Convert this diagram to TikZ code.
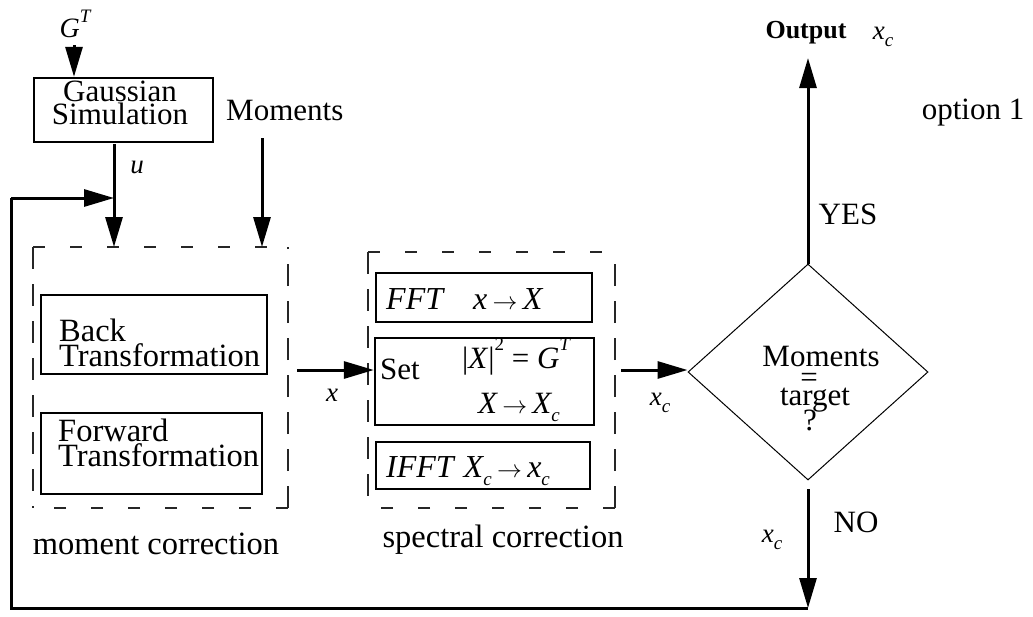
\documentclass[tikz,border=0pt]{standalone}
\usepackage{fontspec}
\setmainfont{Liberation Serif}
\usetikzlibrary{arrows.meta,shapes.geometric}
\newcommand\mysub[1]{\raisebox{-0.28em}{\fontsize{19}{19}\selectfont\itshape #1}}
\newcommand\mysup[1]{\raisebox{0.55em}{\fontsize{19}{19}\selectfont #1}}
\newcommand\myarr{\,$\rightarrow$\,}
\begin{document}
\begin{tikzpicture}[x=1pt,y=-1pt,
  conn/.style={line width=3pt,-{Triangle[length=30pt,width=17pt]}},
  plain/.style={line width=3pt},
  blk/.style={draw,line width=2.4pt,inner sep=0pt},
  lab/.style={inner sep=0pt,font=\fontsize{31}{22}\selectfont},
  big/.style={inner sep=0pt,font=\fontsize{32.5}{25}\selectfont},
  small/.style={inner sep=0pt,font=\fontsize{27}{27}\selectfont},
  dh/.style={line width=1.8pt,black!85,dash pattern=on 12pt off 25pt},
  dv/.style={line width=1.8pt,black!85,dash pattern=on 22pt off 15pt},
  dia/.style={draw,diamond,line width=1pt,inner sep=0pt,minimum width=240pt,minimum height=216pt}]
\useasboundingbox (0,0) rectangle (1033,616);

% Gaussian
\node[small,font=\fontsize{28}{28}\selectfont] (gt) at (75,24) {\itshape G\mysup{\itshape T}};
\node[blk,minimum width=179pt,minimum height=64pt] (gauss) at (123.5,110) {};
\node[lab,align=center,font=\fontsize{31}{21.5}\selectfont] (gausst) at (120,103) {Gaussian\\Simulation};
\node[lab,anchor=west] (mom) at (226,110) {Moments};
\coordinate (gtb) at (74,45);
\draw[conn] (gtb) -- (gauss.north -| gtb);

% moment correction
\coordinate (mc1) at (33,247); \coordinate (mc2) at (288,508);
\draw[dh] (mc1) -- (mc1 -| mc2);
\draw[dh] (mc2 |- mc2) -- (mc1 |- mc2);
\draw[dv] (mc1) -- (mc1 |- mc2);
\draw[dv] (mc2) -- (mc2 |- mc1);
\node[blk,minimum width=226pt,minimum height=79pt] (back) at (154,334.5) {};
\node[big,anchor=west,align=left] (backt) at (59,342.5) {Back\\Transformation};
\node[blk,minimum width=221pt,minimum height=81pt] (fwd) at (151.5,453.5) {};
\node[big,anchor=west,align=left] (fwdt) at (58,442.5) {Forward\\Transformation};
\node[big] (mct) at (156,544) {moment correction};

% inputs
\coordinate (gbot) at (114,144);
\coordinate (gin) at (114,247);
\draw[conn] (gbot) -- (gin);
\node[small] (ul) at (137,167) {\itshape u};
\coordinate (mtop) at (262,138);
\coordinate (min) at (262,247);
\draw[conn] (mtop) -- (min);

% spectral correction
\coordinate (sc1) at (368,252); \coordinate (sc2) at (615,508);
\draw[dh] (sc1) -- (sc1 -| sc2);
\draw[dh] (sc2) -- (sc1 |- sc2);
\draw[dv] (sc1) -- (sc1 |- sc2);
\draw[dv] (sc2) -- (sc2 |- sc1);
\node[blk,minimum width=216pt,minimum height=49pt] (fft) at (484,297.5) {};
\node[lab,anchor=base west,font=\fontsize{32}{22}\selectfont] (fftt) at (386,309) {\itshape FFT\hspace{30pt}x\myarr X};
\node[blk,minimum width=219pt,minimum height=87pt] (set) at (484.5,381.5) {};
\node[lab,anchor=base west] (sett) at (380,379) {Set};
\node[lab,anchor=base west] (setg) at (462,368) {|\textit{X}|\mysup{2} = \textit{G}\mysup{\itshape T}};
\node[lab,anchor=base west] (setx) at (478,413) {\itshape X\myarr X\mysub{c}};
\node[blk,minimum width=214pt,minimum height=47pt] (ifft) at (483,465.5) {};
\node[lab,anchor=base west,font=\fontsize{32}{22}\selectfont] (ifftt) at (386,477) {\itshape IFFT\hspace{10pt}X\mysub{c}\myarr x\mysub{c}};
\node[big] (sct) at (503,540) {spectral correction};

% x arrow
\coordinate (xs) at (297,370);
\draw[conn] (xs) -- (set.west |- xs);
\node[small] (xl) at (332,395) {\itshape x};

% decision
\node[dia] (dec) at (808,372) {};
\node[lab] (d1) at (821,356) {Moments};
\node[lab] (d2) at (809,380) {=};
\node[lab,anchor=base] (d3) at (815,405) {target};
\node[lab,anchor=base] (d4) at (810,430) {?};
\coordinate (ds) at (621,370);
\draw[conn] (ds) -- (dec.west |- ds);
\node[small] (xc1) at (660,403) {\itshape x\mysub{c}};

% output
\coordinate (otip) at (808,58);
\draw[conn] (dec.north) -- (otip);
\node[inner sep=0pt,font=\fontsize{26}{26}\selectfont\bfseries] (outl) at (806,33) {Output};
\node[small] (xc0) at (883,37) {\itshape x\mysub{c}};
\node[lab] (yes) at (848,214) {YES};
\node[lab] (opt) at (973,113) {option 1};

% NO loop
\coordinate (nos) at (808,489);
\coordinate (nob) at (808,608);
\coordinate (lb) at (11,608);
\coordinate (lt) at (11,198);
\draw[conn] (nos) -- (nob);
\node[lab] (no) at (856,522) {NO};
\node[small] (xc2) at (772,540) {\itshape x\mysub{c}};
\draw[plain] (nob) -- (lb) -- (lt);
\draw[conn] (lt) -- (gbot |- lt);
\end{tikzpicture}
\end{document}
